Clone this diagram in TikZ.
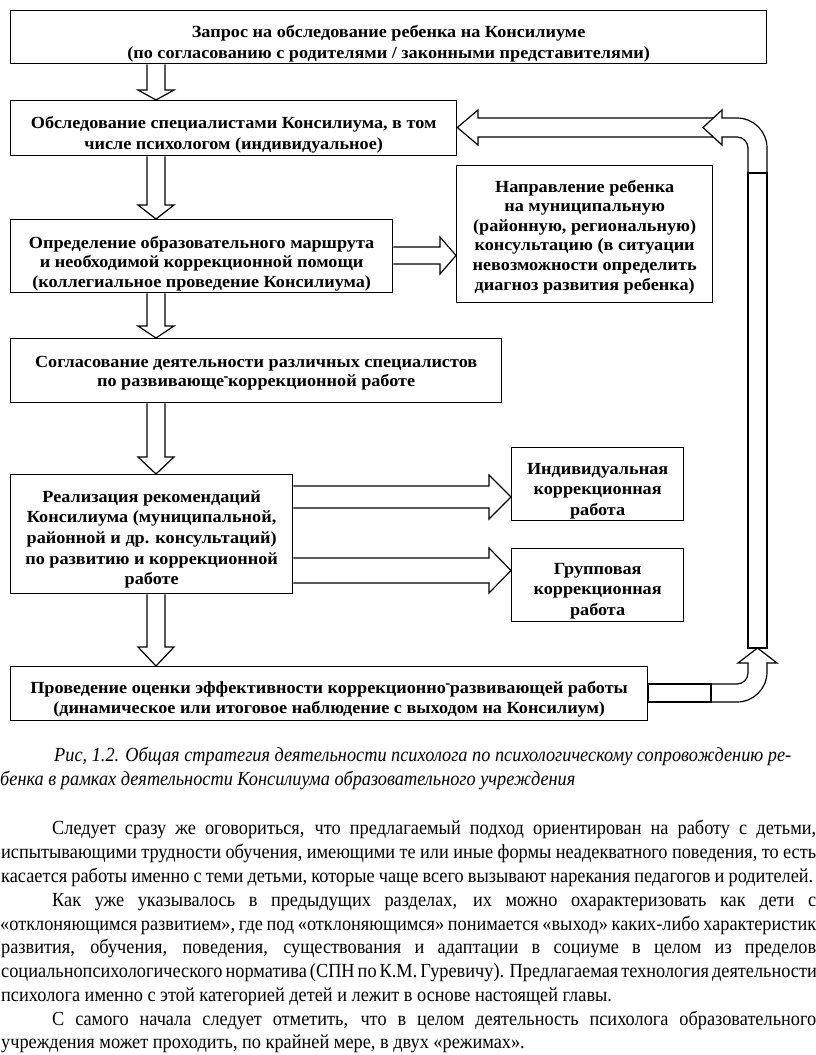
\documentclass[tikz,border=0pt]{standalone}
\usepackage{fontspec}
\usepackage{graphicx}
\setmainfont{Liberation Serif}
\newfontfamily\boxfont{Liberation Serif}[FakeStretch=1.07]
\newfontfamily\bodyfont{Liberation Serif}[FakeStretch=0.915]
\usetikzlibrary{calc,backgrounds}
\newcommand\uphy{\raisebox{.28em}{\kern-.03em\scalebox{.8}[1]{-}\kern-.03em}}
\newcommand\fr[5]{\node[frame, minimum width={(#4-#2)*1pt}, minimum height={(#5-#3)*1pt}] (#1) at (#2,#3) {};}
\newcommand\darr[6]{%
\draw[blk] let \p1=(#1.south), \p2=(#2.north) in
 ({(#3-#4)*1pt},\y1) -- ({(#3-#4)*1pt},{\y2+#6*1pt}) -- ({(#3-#5)*1pt},{\y2+#6*1pt}) -- ({#3*1pt},\y2)
 -- ({(#3+#5)*1pt},{\y2+#6*1pt}) -- ({(#3+#4)*1pt},{\y2+#6*1pt}) -- ({(#3+#4)*1pt},\y1);}
\newcommand\rarr[6]{%
\draw[blk] let \p1=(#1.east), \p2=(#2.west) in
 (\x1,{-(#3-#4)*1pt}) -- ({\x2-#6*1pt},{-(#3-#4)*1pt}) -- ({\x2-#6*1pt},{-(#3-#5)*1pt}) -- (\x2,{-#3*1pt})
 -- ({\x2-#6*1pt},{-(#3+#5)*1pt}) -- ({\x2-#6*1pt},{-(#3+#4)*1pt}) -- (\x1,{-(#3+#4)*1pt});}
\tikzset{
 frame/.style={draw=black, line width=1.3pt, inner sep=0pt, anchor=north west},
 btxt/.style={align=center, anchor=base, inner sep=0pt},
 blk/.style={draw=black, fill=white, line width=1.2pt, line join=miter, miter limit=10},
 body/.style={anchor=base west, inner sep=0pt, font=\bodyfont\fontsize{20pt}{24pt}\selectfont},
 capt/.style={anchor=base west, inner sep=0pt, font=\bodyfont\itshape\fontsize{20pt}{24pt}\selectfont},
}
\newcommand\bxf[1]{\boxfont\bfseries\fontsize{17pt}{#1pt}\selectfont}
\begin{document}
\begin{tikzpicture}[x=1pt,y=-1pt]
\useasboundingbox (0,0) rectangle (816,1055);
% boxes
\fr{b1}{10}{10}{766}{63}
\fr{b2}{10}{100}{456}{155}
\fr{b3}{10}{219}{392}{292}
\fr{bN}{456}{165}{712}{302}
\fr{b4}{10}{338}{501}{402}
\fr{b5}{10}{474}{292}{593}
\fr{bI}{511}{447}{683}{520}
\fr{bG}{511}{548}{683}{621}
\fr{b6}{10}{666}{647}{720}
% box texts (anchor = baseline of last line)
\node[btxt, font=\bxf{21}] (t1) at ($(b1.north)+(0,48)$) {Запрос на обследование ребенка на Консилиуме\\(по согласованию с родителями / законными представителями)};
\node[btxt, font=\bxf{21}] (t2) at ($(b2.north)+(0,49)$) {Обследование специалистами Консилиума, в том\\числе психологом (индивидуальное)};
\node[btxt, font=\bxf{19.5}] (t3) at ($(b3.north)+(0,68)$) {Определение образовательного маршрута\\и необходимой коррекционной помощи\\(коллегиальное проведение Консилиума)};
\node[btxt, font=\bxf{19.6}] (tN) at ($(bN.north)+(0,125)$) {Направление ребенка\\на муниципальную\\(районную, региональную)\\консультацию (в ситуации\\невозможности определить\\диагноз развития ребенка)};
\node[btxt, font=\bxf{19.5}] (t4) at ($(b4.north)+(0,48.5)$) {Согласование деятельности различных специалистов\\по развивающе\uphy коррекционной работе};
\node[btxt, font=\bxf{20.7}] (t5) at ($(b5.north)+(0,110.8)$) {Реализация рекомендаций\\Консилиума (муниципальной,\\районной и др. консультаций)\\по развитию и коррекционной\\работе};
\node[btxt, font=\bxf{20.7}] (tI) at ($(bI.north)+(0,68.4)$) {Индивидуальная\\коррекционная\\работа};
\node[btxt, font=\bxf{20.7}] (tG) at ($(bG.north)+(0,67.4)$) {Групповая\\коррекционная\\работа};
\node[btxt, font=\bxf{20}] (t6) at ($(b6.north)+(0,47)$) {Проведение оценки эффективности коррекционно\uphy развивающей работы\\(динамическое или итоговое наблюдение с выходом на Консилиум)};
% connectors
\begin{pgfonlayer}{background}
\darr{b1}{b2}{156}{9}{18}{10}
\darr{b2}{b3}{156}{9}{18}{14}
\darr{b3}{b4}{156}{9}{18}{12}
\darr{b4}{b5}{156}{9}{18}{17}
\darr{b5}{b6}{156}{9}{18}{19}
\rarr{b3}{bN}{255.5}{8.5}{18.5}{16}
\rarr{b5}{bI}{497}{11}{22}{22}
\rarr{b5}{bG}{570.5}{12.5}{22.5}{22}
% feedback loop
\draw[blk] let \p2=(b2.east) in (716,118) -- (478,118) -- (478,110) -- (\x2,-127.5pt) -- (478,145) -- (478,137) -- (716,137);
\draw[blk] (748,173) -- (748,148) arc[start angle=0,end angle=90,radius=11pt] -- (722,137) -- (722,145) -- (703,127.5) -- (722,110) -- (722,118) -- (737,118) arc[start angle=90,end angle=0,radius=30pt] -- (767,173);
\draw[blk] (748,173) rectangle (767,648);
\draw[blk] (711,684) -- (737,684) arc[start angle=-90,end angle=0,radius=11pt] -- (748,663) -- (738,663) -- (757.5,648) -- (777,663) -- (767,663) -- (767,672) arc[start angle=0,end angle=-90,radius=30pt] -- (711,702);
\draw[blk] let \p1=(b6.east) in (\x1,-684pt) rectangle (711,702);
\end{pgfonlayer}
% caption
\node[capt] (c1) at (54,761) {Рис, 1.2. Общая стратегия деятельности психолога по психологическому сопровождению ре-};
\node[capt] (c2) at (0,785) {бенка в рамках деятельности Консилиума образовательного учреждения};
% body
\node[body] (p1) at (52,834) {\makebox[764pt][s]{Следует сразу же оговориться, что предлагаемый подход ориентирован на работу с детьми,}};
\node[body] (p2) at (1,858) {\makebox[815pt][s]{испытывающими трудности обучения, имеющими те или иные формы неадекватного поведения, то есть}};
\node[body] (p3) at (1,882) {\makebox[812pt][s]{касается работы именно с теми детьми, которые чаще всего вызывают нарекания педагогов и родителей.}};
\node[body] (p4) at (52,906) {\makebox[764pt][s]{Как уже указывалось в предыдущих разделах, их можно охарактеризовать как дети с}};
\node[body] (p5) at (0,930) {\makebox[816pt][s]{«отклоняющимся развитием», где под «отклоняющимся» понимается «выход» каких-либо характеристик}};
\node[body] (p6) at (1,953) {\makebox[815pt][s]{развития, обучения, поведения, существования и адаптации в социуме в целом из пределов}};
\node[body] (p7) at (1,977) {\makebox[815pt][s]{социальнопсихологического норматива (СПН по К.М. Гуревичу). Предлагаемая технология деятельности}};
\node[body] (p8) at (1,1001) {психолога именно с этой категорией детей и лежит в основе настоящей главы.};
\node[body] (p9) at (52,1025) {\makebox[764pt][s]{С самого начала следует отметить, что в целом деятельность психолога образовательного}};
\node[body] (p10) at (1,1048) {учреждения может проходить, по крайней мере, в двух «режимах».};
\end{tikzpicture}
\end{document}
